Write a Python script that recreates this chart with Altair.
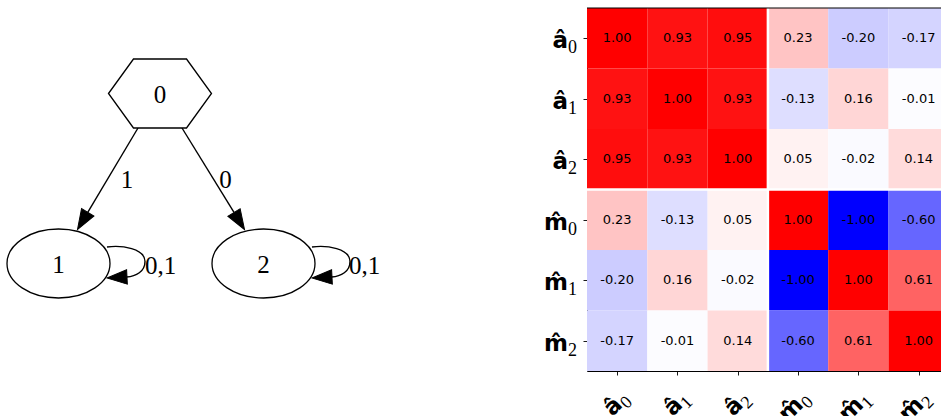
import math
import pandas as pd
import altair as alt

# ---------------- canvas layout ----------------
PAD_LEFT, PAD_TOP = 587, 8          # heatmap plot area offset
PLOT_W, PLOT_H = 354, 363           # visible heatmap plot area
CELL_W = 60.3                       # heatmap column width in pixels

# ---------------- state diagram (layout positions) ----------------
node_name = ["0", "1", "2"]
node_x = [160.0, 58.5, 263.5]
node_y = [93.5, 263.5, 263.5]
node_kind = ["hexagon", "ellipse", "ellipse"]
NODE_RX, NODE_RY = 51.5, 34.5

edge_label = ["1", "0"]
edge_x0 = [138.0, 182.0]
edge_y0 = [128.0, 128.0]
edge_x1 = [77.5, 244.5]
edge_y1 = [229.5, 229.5]
edge_label_x = [127.0, 225.5]
edge_label_y = [180.0, 180.0]

loop_node = [1, 2]
loop_label = ["0,1", "0,1"]
loop_label_x = [160.5, 364.5]
loop_label_y = [265.5, 265.5]
# self-loop arrow tip / base relative to the node centre
LOOP_TIP = (48.5, 14.5)
LOOP_BASE = (68.0, 13.5)

ARROW_LEN = 20.0

# ---------------- correlation matrix ----------------
var_base = ["\u00e2", "\u00e2", "\u00e2", "m\u0302", "m\u0302", "m\u0302"]
var_sub = ["0", "1", "2", "0", "1", "2"]
corr = [
    [1.00, 0.93, 0.95, 0.23, -0.20, -0.17],
    [0.93, 1.00, 0.93, -0.13, 0.16, -0.01],
    [0.95, 0.93, 1.00, 0.05, -0.02, 0.14],
    [0.23, -0.13, 0.05, 1.00, -1.00, -0.60],
    [-0.20, 0.16, -0.02, -1.00, 1.00, 0.61],
    [-0.17, -0.01, 0.14, -0.60, 0.61, 1.00],
]
block_split = [3]

# ---------------- symbol paths ----------------
K = 0.5523
RY = NODE_RY / NODE_RX
HEX_PATH = (f"M -1 0 L -0.515 {-RY} L 0.515 {-RY} L 1 0 "
            f"L 0.515 {RY} L -0.515 {RY} Z")
ELL_PATH = (f"M -1 0 C -1 {-K*RY} {-K} {-RY} 0 {-RY} "
            f"C {K} {-RY} 1 {-K*RY} 1 0 "
            f"C 1 {K*RY} {K} {RY} 0 {RY} "
            f"C {-K} {RY} -1 {K*RY} -1 0 Z")
ARROW_PATH = "M 0 0 L 0.36 1 L -0.36 1 Z"
# self loop drawn in pixel units (symbol size 4 -> unit scale)
LOOP_PATH = "M 48.5 -16.5 C 63.5 -18.5 86.5 -15 86.5 -2 C 86.5 8 77.5 13 68 13.5"
NODE_SIZE = (2 * NODE_RX) ** 2
ARROW_SIZE = (2 * ARROW_LEN) ** 2


def heading(dx, dy):
    """Rotation (degrees, clockwise) turning an upward arrow toward (dx, dy)."""
    return math.degrees(math.atan2(dx, -dy)) % 360


nodes = pd.DataFrame({"name": node_name, "x": node_x, "y": node_y, "kind": node_kind})

edge_rows = []
for lab, x0, y0, x1, y1 in zip(edge_label, edge_x0, edge_y0, edge_x1, edge_y1):
    d = math.hypot(x1 - x0, y1 - y0)
    ux, uy = (x1 - x0) / d, (y1 - y0) / d
    edge_rows.append({"x": x0, "y": y0, "xb": x1 - ARROW_LEN * ux,
                      "yb": y1 - ARROW_LEN * uy, "tx": x1, "ty": y1,
                      "ang": heading(ux, uy)})
edges = pd.DataFrame(edge_rows)

loop_rows = []
for idx, lab, lx, ly in zip(loop_node, loop_label, loop_label_x, loop_label_y):
    cx, cy = node_x[idx], node_y[idx]
    loop_rows.append({"x": cx, "y": cy,
                      "tx": cx + LOOP_TIP[0], "ty": cy + LOOP_TIP[1],
                      "ang": heading(LOOP_TIP[0] - LOOP_BASE[0], LOOP_TIP[1] - LOOP_BASE[1]),
                      "label": lab, "lx": lx, "ly": ly})
loops = pd.DataFrame(loop_rows)
edge_labels = pd.DataFrame({"label": edge_label, "x": edge_label_x, "y": edge_label_y})

gx = alt.Scale(domain=[PAD_LEFT, PAD_LEFT + PLOT_W], nice=False, zero=False)
gy = alt.Scale(domain=[PAD_TOP, PAD_TOP + PLOT_H], reverse=True, nice=False, zero=False)


def gX(f):
    return alt.X(f"{f}:Q", scale=gx, axis=None)


def gY(f):
    return alt.Y(f"{f}:Q", scale=gy, axis=None)


GFONT = dict(font="Liberation Serif", fontSize=25, baseline="middle", color="black")
node_style = dict(filled=True, fill="white", stroke="black", strokeWidth=1.3,
                  opacity=1, size=NODE_SIZE)
hexes = alt.Chart(nodes).transform_filter("datum.kind == 'hexagon'").mark_point(
    shape=HEX_PATH, **node_style).encode(x=gX("x"), y=gY("y"))
ellipses = alt.Chart(nodes).transform_filter("datum.kind == 'ellipse'").mark_point(
    shape=ELL_PATH, **node_style).encode(x=gX("x"), y=gY("y"))
node_text = alt.Chart(nodes).mark_text(dy=1, **GFONT).encode(
    x=gX("x"), y=gY("y"), text="name:N")

edge_lines = alt.Chart(edges).mark_rule(color="black", strokeWidth=1.4).encode(
    x=gX("x"), y=gY("y"), x2="xb:Q", y2="yb:Q")
edge_heads = alt.Chart(edges).mark_point(
    shape=ARROW_PATH, filled=True, fill="black", stroke="black", strokeWidth=1,
    opacity=1, size=ARROW_SIZE
).encode(x=gX("tx"), y=gY("ty"), angle=alt.Angle("ang:Q", scale=None))
edge_text = alt.Chart(edge_labels).mark_text(**GFONT).encode(
    x=gX("x"), y=gY("y"), text="label:N")

loop_lines = alt.Chart(loops).mark_point(
    shape=LOOP_PATH, filled=False, stroke="black", strokeWidth=1.4, opacity=1, size=4
).encode(x=gX("x"), y=gY("y"))
loop_heads = alt.Chart(loops).mark_point(
    shape=ARROW_PATH, filled=True, fill="black", stroke="black", strokeWidth=1,
    opacity=1, size=ARROW_SIZE
).encode(x=gX("tx"), y=gY("ty"), angle=alt.Angle("ang:Q", scale=None))
loop_text = alt.Chart(loops).mark_text(**GFONT).encode(
    x=gX("lx"), y=gY("ly"), text="label:N")

graph = alt.layer(edge_lines, loop_lines, hexes, ellipses, node_text,
                  edge_heads, loop_heads, edge_text, loop_text)

# ---------------- heatmap ----------------
cells = pd.DataFrame([
    {"r": i, "c": j, "v": corr[i][j], "txt": f"{corr[i][j]:.2f}"}
    for i in range(len(corr)) for j in range(len(corr[i]))
])
cells["r1"] = cells["r"] + 1
cells["c1"] = cells["c"] + 1
cells["rc"] = cells["r"] + 0.5
cells["cc"] = cells["c"] + 0.5

labels = pd.DataFrame({"base": var_base, "sub": var_sub,
                       "pos": [k + 0.5 for k in range(len(var_base))]})
splits = pd.DataFrame({"s": block_split})

n = len(var_base)
hx = alt.Scale(domain=[0, PLOT_W / CELL_W], nice=False, zero=False)
hy = alt.Scale(domain=[0, n], reverse=True, nice=False, zero=False)
tick_vals = [k + 0.5 for k in range(n)]
x_axis = alt.Axis(orient="bottom", values=tick_vals, labels=False, title=None,
                  grid=False, tickSize=4, tickWidth=0.9, tickColor="black",
                  domainColor="black", domainWidth=1)
y_axis = alt.Axis(orient="left", values=tick_vals, labels=False, title=None,
                  grid=False, tickSize=4, tickWidth=0.9, tickColor="black",
                  domainColor="black", domainWidth=1)

cmap = alt.Scale(domain=[-1, 0, 1], range=["#0000ff", "#ffffff", "#ff0000"],
                 interpolate="rgb")

rects = alt.Chart(cells).mark_rect(clip=True).encode(
    x=alt.X("c:Q", scale=hx, axis=x_axis), x2="c1:Q",
    y=alt.Y("r:Q", scale=hy, axis=y_axis), y2="r1:Q",
    color=alt.Color("v:Q", scale=cmap, legend=None),
)
values = alt.Chart(cells).mark_text(
    font="DejaVu Sans", fontSize=13, color="black", baseline="middle", clip=True
).encode(x=alt.X("cc:Q", scale=hx, axis=x_axis),
         y=alt.Y("rc:Q", scale=hy, axis=y_axis), text="txt:N")

vsplit = alt.Chart(splits).mark_rule(color="white", strokeWidth=2.5).encode(
    x=alt.X("s:Q", scale=hx, axis=x_axis))
hsplit = alt.Chart(splits).mark_rule(color="white", strokeWidth=2.5).encode(
    y=alt.Y("s:Q", scale=hy, axis=y_axis))
top_spine = alt.Chart(splits).mark_rule(color="black", strokeWidth=1).encode(
    x=alt.value(0), x2=alt.value(PLOT_W), y=alt.value(0))

ylab_base = alt.Chart(labels).mark_text(
    font="DejaVu Sans", fontWeight="bold", fontSize=23, align="right",
    baseline="alphabetic", dy=10, color="black"
).encode(x=alt.value(-19), y=alt.Y("pos:Q", scale=hy, axis=y_axis), text="base:N")
ylab_sub = alt.Chart(labels).mark_text(
    font="Liberation Serif", fontSize=18, align="left",
    baseline="alphabetic", dy=15, color="black"
).encode(x=alt.value(-19), y=alt.Y("pos:Q", scale=hy, axis=y_axis), text="sub:N")

xlab_base = alt.Chart(labels).mark_text(
    font="DejaVu Sans", fontWeight="bold", fontSize=23, align="right",
    baseline="alphabetic", angle=315, dx=1, dy=8, color="black"
).encode(x=alt.X("pos:Q", scale=hx, axis=x_axis), y=alt.value(PLOT_H + 30), text="base:N")
xlab_sub = alt.Chart(labels).mark_text(
    font="Liberation Serif", fontSize=18, align="left",
    baseline="alphabetic", angle=315, dx=1, dy=13, color="black"
).encode(x=alt.X("pos:Q", scale=hx, axis=x_axis), y=alt.value(PLOT_H + 30), text="sub:N")

heat = alt.layer(rects, values, vsplit, hsplit, top_spine,
                 ylab_base, ylab_sub, xlab_base, xlab_sub)

chart = alt.layer(graph, heat).resolve_scale(
    x="independent", y="independent"
).properties(
    width=PLOT_W, height=PLOT_H,
    padding={"left": PAD_LEFT, "top": PAD_TOP, "right": 0,
             "bottom": 416 - PAD_TOP - PLOT_H},
    autosize=alt.AutoSizeParams(type="none"),
).configure_view(stroke=None)

chart.save("out.html", embed_options={"renderer": "svg", "actions": False})
